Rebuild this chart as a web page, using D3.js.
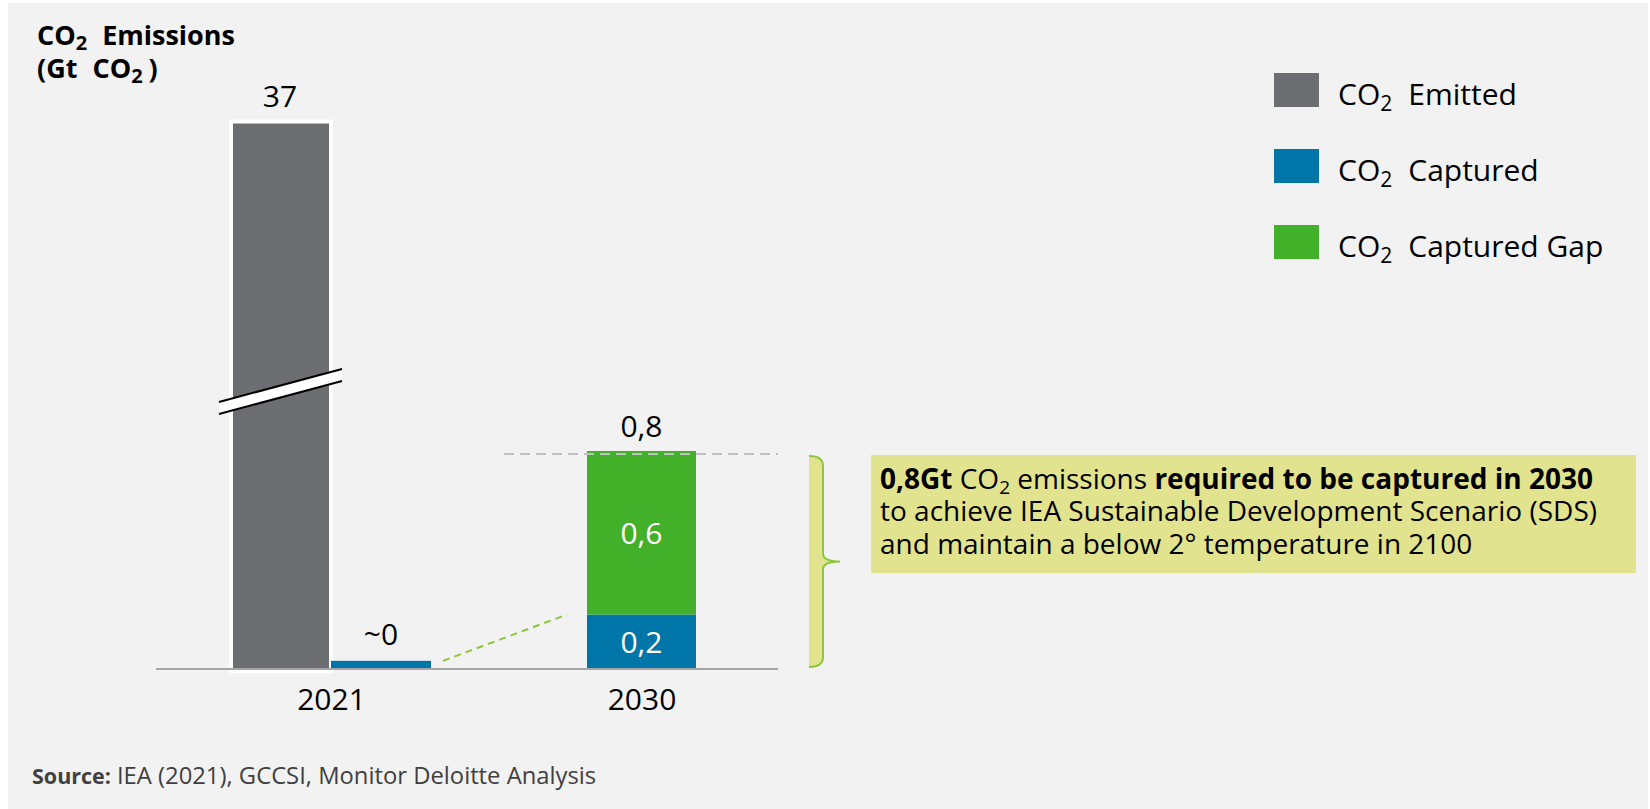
<!DOCTYPE html>
<html>
<head>
<meta charset="utf-8">
<script src="https://cdn.jsdelivr.net/npm/d3@7/dist/d3.min.js"></script>
<style>
  html, body { margin: 0; padding: 0; background: #ffffff; }
  svg { display: block; font-family: "Open Sans", "Noto Sans", sans-serif; }
</style>
</head>
<body>
<svg id="chart" width="1650" height="809"></svg>
<script>
// ---- data (Gt CO2) ----
const years = ["2021", "2030"];
const emitted = [37, null];
const captured = [0.03, 0.2];
const capturedGap = [null, 0.6];
const approxLabels = ["~0", null];
const seriesNames = ["Emitted", "Captured", "Captured Gap"];
const sourceBold = "Source:";
const sourceText = "IEA (2021), GCCSI, Monitor Deloitte Analysis";
const noteRest1 = "emissions ";
const noteBold1 = "required to be captured in 2030";
const noteLine2 = "to achieve IEA Sustainable Development Scenario (SDS)";
const noteLine3 = "and maintain a below 2° temperature in 2100";

// ---- styling ----
const colors = { Emitted: "#6d6e71", Captured: "#0076a8", "Captured Gap": "#43b02a" };
const bg = "#f2f2f2";
const noteFill = "#e2e38e";
const braceStroke = "#8cc63e";

const fmt = d3.formatLocale({ decimal: ",", thousands: ".", grouping: [3], currency: ["", "€"] }).format(".1f");
const fmtVal = v => (Number.isInteger(v) ? String(v) : fmt(v));

const svg = d3.select("#chart");
svg.append("rect").attr("x", 8).attr("y", 3).attr("width", 1640).attr("height", 806).attr("fill", bg);

// broken value axis: linear up to 1 Gt, compressed above
const y = d3.scaleLinear().domain([0, 1, 37]).range([669, 396.5, 121.5]);
const x = d3.scalePoint().domain(years).range([331, 641.5]);
const sub = d3.scaleBand().domain(["Emitted", "Captured"]).range([-100, 100]);
const stackW = 109;

// helper: writes "CO" with a subscript 2 followed by a trailing string
function co2(textSel, subSize, subDy, gap, rest) {
  textSel.append("tspan").text("CO");
  textSel.append("tspan").attr("font-size", subSize).attr("dy", subDy).text("2");
  textSel.append("tspan").attr("dy", -subDy).attr("dx", gap).text(rest);
  return textSel;
}

// ---- title ----
const t1 = svg.append("text").attr("x", 37).attr("y", 45).attr("font-size", 27).attr("font-weight", 700);
co2(t1, 20, 5, 15, "Emissions");
const t2 = svg.append("text").attr("x", 37).attr("y", 78).attr("font-size", 27).attr("font-weight", 700);
t2.append("tspan").text("(Gt");
t2.append("tspan").attr("dx", 15).text("CO");
t2.append("tspan").attr("font-size", 20).attr("dy", 5).text("2");
t2.append("tspan").attr("dy", -5).attr("dx", 6).text(")");

// ---- 2021 bars ----
const x21 = x(years[0]);
svg.append("rect")
  .attr("x", x21 + sub("Emitted")).attr("width", sub.bandwidth())
  .attr("y", y(emitted[0])).attr("height", y(0) - y(emitted[0]) + 2)
  .attr("fill", colors.Emitted).attr("stroke", "#ffffff").attr("stroke-width", 4);

svg.append("rect")
  .attr("x", x21 + sub("Captured")).attr("width", sub.bandwidth())
  .attr("y", y(captured[0])).attr("height", y(0) - y(captured[0]))
  .attr("fill", colors.Captured);

// axis break on the 37 Gt bar
const bL = x21 + sub("Emitted") - 12, bR = x21 + sub("Emitted") + sub.bandwidth() + 11;
const bY = y(1) - 5, tilt = 16.5, thick = 6;
svg.append("path")
  .attr("d", `M${bL},${bY + tilt - thick}L${bR},${bY - tilt - thick}L${bR},${bY - tilt + thick}L${bL},${bY + tilt + thick}Z`)
  .attr("fill", "#ffffff");
[-thick, thick].forEach(o => {
  svg.append("line").attr("x1", bL).attr("y1", bY + tilt + o).attr("x2", bR).attr("y2", bY - tilt + o)
    .attr("stroke", "#000").attr("stroke-width", 2);
});

// ---- 2030 stacked bar ----
const x30 = x(years[1]);
const stackRows = [{ year: years[1], Captured: captured[1], "Captured Gap": capturedGap[1] }];
const stacked = d3.stack().keys(["Captured", "Captured Gap"])(stackRows);
svg.append("g").selectAll("rect").data(stacked).join("rect")
  .attr("x", x30 - stackW / 2).attr("width", stackW)
  .attr("y", d => y(d[0][1])).attr("height", d => y(d[0][0]) - y(d[0][1]))
  .attr("fill", d => colors[d.key]);
svg.append("g").selectAll("text").data(stacked).join("text")
  .attr("x", x30).attr("y", d => (y(d[0][0]) + y(d[0][1])) / 2 + 11)
  .attr("text-anchor", "middle").attr("font-size", 30).attr("fill", "#ffffff")
  .text(d => fmtVal(d[0][1] - d[0][0]));

const total30 = captured[1] + capturedGap[1];

// dashed target line
svg.append("line")
  .attr("x1", 504).attr("x2", 778).attr("y1", y(total30) + 3).attr("y2", y(total30) + 3)
  .attr("stroke", "#bfbfbf").attr("stroke-width", 2).attr("stroke-dasharray", "10,6");

// connector from 2021 captured to 2030 captured
svg.append("line")
  .attr("x1", x21 + sub("Captured") + sub.bandwidth() + 12).attr("y1", y(captured[0]))
  .attr("x2", x30 - stackW / 2 - 20).attr("y2", y(captured[1]))
  .attr("stroke", braceStroke).attr("stroke-width", 2).attr("stroke-dasharray", "7,5");

// ---- value labels ----
svg.append("text").attr("x", x21 + sub("Emitted") + sub.bandwidth() / 2 - 1).attr("y", y(emitted[0]) - 15)
  .attr("text-anchor", "middle").attr("font-size", 30).text(fmtVal(emitted[0]));
svg.append("text").attr("x", x21 + sub("Captured") + sub.bandwidth() / 2).attr("y", y(captured[0]) - 16)
  .attr("text-anchor", "middle").attr("font-size", 30).text(approxLabels[0]);
svg.append("text").attr("x", x30).attr("y", y(total30) - 14)
  .attr("text-anchor", "middle").attr("font-size", 30).text(fmtVal(total30));

// ---- category axis ----
svg.append("line").attr("x1", 156).attr("x2", 778).attr("y1", y(0)).attr("y2", y(0))
  .attr("stroke", "#a6a6a6").attr("stroke-width", 2);
const ax = svg.append("g").attr("transform", `translate(0,${y(0)})`)
  .call(d3.axisBottom(x).tickSize(0).tickPadding(20));
ax.select(".domain").remove();
ax.selectAll("text").attr("font-size", 30).attr("font-family", "\"Open Sans\", sans-serif").attr("fill", "#000");

// ---- brace ----
const brTop = y(total30) + 5, brBot = y(0) - 2, brMid = (brTop + brBot) / 2;
const bx0 = 809, bx1 = 823, bxTip = 840;
const bracePath = `M${bx0},${brTop} Q${bx1},${brTop} ${bx1},${brTop + 10} L${bx1},${brMid - 8} Q${bx1},${brMid} ${bxTip},${brMid} Q${bx1},${brMid} ${bx1},${brMid + 8} L${bx1},${brBot - 10} Q${bx1},${brBot} ${bx0},${brBot}`;
svg.append("path").attr("d", bracePath + "Z").attr("fill", noteFill);
svg.append("path").attr("d", bracePath).attr("fill", "none").attr("stroke", braceStroke).attr("stroke-width", 2);

// ---- note box ----
svg.append("rect").attr("x", 871).attr("y", 455).attr("width", 765).attr("height", 118).attr("fill", noteFill);
const note = svg.append("g").attr("font-size", 28).attr("fill", "#000");
const n1 = note.append("text").attr("x", 880).attr("y", 489);
n1.append("tspan").attr("font-weight", 700).text(fmtVal(total30) + "Gt");
n1.append("tspan").text(" CO");
n1.append("tspan").attr("font-size", 19).attr("dy", 5).text("2");
n1.append("tspan").attr("dy", -5).text(" " + noteRest1);
n1.append("tspan").attr("font-weight", 700).text(noteBold1);
note.append("text").attr("x", 880).attr("y", 521).text(noteLine2);
note.append("text").attr("x", 880).attr("y", 554).text(noteLine3);

// ---- legend ----
const lg = svg.append("g").selectAll("g").data(seriesNames).join("g")
  .attr("transform", (d, i) => `translate(1274,${73 + i * 76})`);
lg.append("rect").attr("width", 45).attr("height", 34).attr("fill", d => colors[d]);
lg.each(function (d) {
  const t = d3.select(this).append("text").attr("x", 64).attr("y", 32).attr("font-size", 30);
  co2(t, 21, 6, 16, d);
});

// ---- source ----
const src = svg.append("text").attr("x", 32).attr("y", 784).attr("fill", "#404040");
src.append("tspan").attr("font-size", 21.5).attr("font-weight", 700).text(sourceBold);
src.append("tspan").attr("font-size", 23.8).attr("dx", 6).text(sourceText);
</script>
</body>
</html>
